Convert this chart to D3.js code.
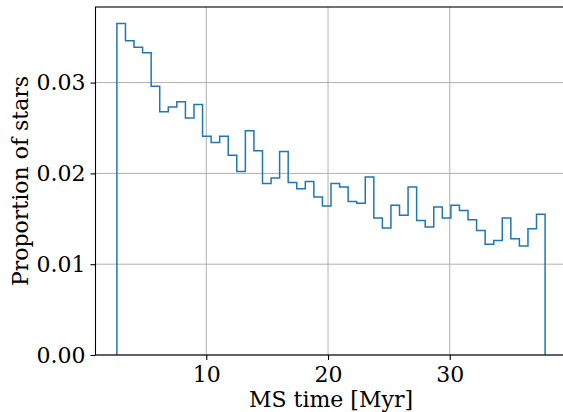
<!DOCTYPE html>
<html>
<head>
<meta charset="utf-8">
<script src="https://cdn.jsdelivr.net/npm/d3@7"></script>
<style>
  html, body { margin: 0; padding: 0; background: #fff; }
  svg { display: block; }
  text { font-family: "DejaVu Serif", serif; fill: #000; }
</style>
</head>
<body>
<svg id="chart" width="563" height="412"></svg>
<script>
// Histogram of main-sequence lifetimes (50 equal-width bins)
const histStart = 2.66;   // Myr, left edge of first bin
const histEnd = 37.83;    // Myr, right edge of last bin
const proportions = [
  0.0365, 0.0346, 0.0339, 0.0333, 0.0296, 0.0268, 0.0273, 0.0279, 0.0261, 0.0276,
  0.0241, 0.0234, 0.0241, 0.0220, 0.0202, 0.0247, 0.0225, 0.0189, 0.0195, 0.0224,
  0.0190, 0.0183, 0.0191, 0.0174, 0.0164, 0.0189, 0.0185, 0.0169, 0.0167, 0.0196,
  0.0151, 0.0140, 0.0165, 0.0154, 0.0185, 0.0148, 0.0141, 0.0163, 0.0151, 0.0165,
  0.0159, 0.0149, 0.0137, 0.0122, 0.0126, 0.0151, 0.0128, 0.0120, 0.0139, 0.0155
];
const xTicks = [10, 20, 30];
const yTicks = [0.00, 0.01, 0.02, 0.03];
const xLabel = "MS time [Myr]";
const yLabel = "Proportion of stars";

const svg = d3.select("#chart");
const plot = { left: 95.5, right: 566.5, top: 7, bottom: 355 };
const fontSize = 22;

const nBins = proportions.length;
const binW = (histEnd - histStart) / nBins;
const edges = d3.range(nBins + 1).map(i => histStart + i * binW);

// 5% padding around data extent, like the default autoscale margins
const xPad = 0.05 * (histEnd - histStart);
const yMax = d3.max(proportions) * 1.05;

const x = d3.scaleLinear()
  .domain([histStart - xPad, histEnd + xPad])
  .range([plot.left, plot.right]);
const y = d3.scaleLinear()
  .domain([0, yMax])
  .range([plot.bottom, plot.top]);

// grid lines
const grid = svg.append("g").attr("stroke", "#b0b0b0").attr("stroke-width", 1);
grid.selectAll("line.gx").data(xTicks).join("line")
  .attr("x1", d => x(d)).attr("x2", d => x(d))
  .attr("y1", plot.top).attr("y2", plot.bottom);
grid.selectAll("line.gy").data(yTicks).join("line")
  .attr("x1", plot.left).attr("x2", plot.right)
  .attr("y1", d => y(d)).attr("y2", d => y(d));

// step outline of the histogram
const pts = [[edges[0], 0]];
proportions.forEach((v, i) => {
  pts.push([edges[i], v]);
  pts.push([edges[i + 1], v]);
});
pts.push([edges[nBins], 0]);
const line = d3.line().x(d => x(d[0])).y(d => y(d[1]));
svg.append("path")
  .attr("d", line(pts))
  .attr("fill", "none")
  .attr("stroke", "#1f77b4")
  .attr("stroke-width", 1.5)
  .attr("stroke-linejoin", "miter");

// axes
const xAxis = d3.axisBottom(x).tickValues(xTicks).tickFormat(d3.format("d"))
  .tickSize(5).tickPadding(6);
const yAxis = d3.axisLeft(y).tickValues(yTicks).tickFormat(d3.format(".2f"))
  .tickSize(5).tickPadding(5);

const gx = svg.append("g").attr("transform", `translate(0,${plot.bottom})`).call(xAxis);
const gy = svg.append("g").attr("transform", `translate(${plot.left},0)`).call(yAxis);
[gx, gy].forEach(g => {
  g.select(".domain").remove();
  g.selectAll(".tick line").attr("stroke", "#000").attr("stroke-width", 1.1);
  g.selectAll(".tick text").attr("font-family", "DejaVu Serif").attr("font-size", fontSize).attr("fill", "#000");
});

// frame
svg.append("rect")
  .attr("x", plot.left).attr("y", plot.top)
  .attr("width", plot.right - plot.left).attr("height", plot.bottom - plot.top)
  .attr("fill", "none").attr("stroke", "#000").attr("stroke-width", 1.1);

// axis titles
svg.append("text")
  .attr("x", (plot.left + plot.right) / 2).attr("y", 407)
  .attr("text-anchor", "middle").attr("font-size", fontSize)
  .text(xLabel);
svg.append("text")
  .attr("transform", `translate(28,${(plot.top + plot.bottom) / 2}) rotate(-90)`)
  .attr("text-anchor", "middle").attr("font-size", fontSize)
  .text(yLabel);
</script>
</body>
</html>
